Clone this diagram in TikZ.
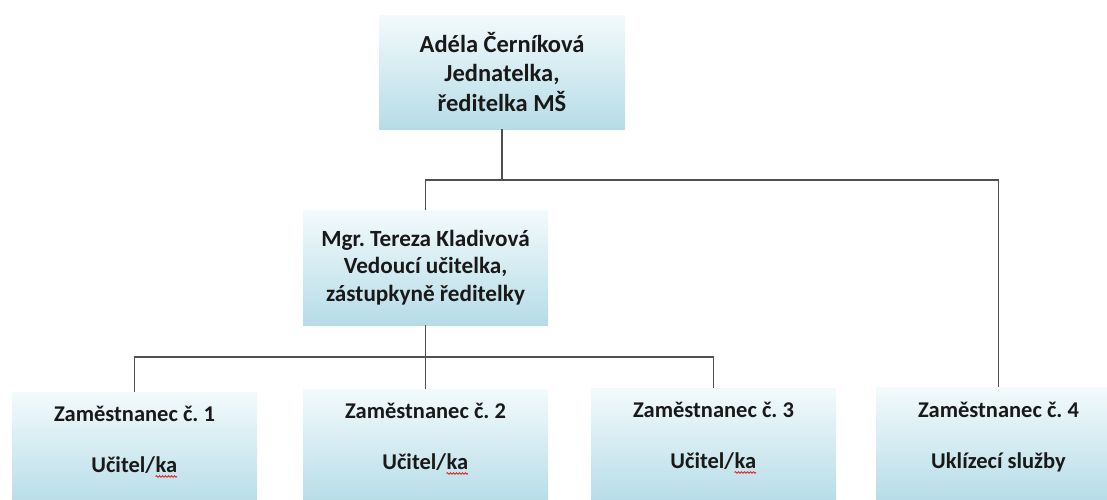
\documentclass[tikz,border=0pt]{standalone}
\usepackage{fontspec}
\setmainfont{Carlito}
\frenchspacing
\usetikzlibrary{positioning,decorations.pathmorphing}
\definecolor{boxtop}{HTML}{F3FAFC}
\definecolor{boxbot}{HTML}{B6DCE7}
\definecolor{linegray}{HTML}{505050}
\definecolor{spellred}{HTML}{E02828}
% red wavy spell-check mark under a word
\newcommand\spellmark[1]{\tikz[baseline=(sw.base)]{\node[inner sep=0pt,outer sep=0pt](sw){#1};\draw[spellred,line width=0.9pt,decorate,decoration={snake,amplitude=0.8pt,segment length=3pt}]([yshift=-3.5pt]sw.south west)--([yshift=-3.5pt]sw.south east);}}
\begin{document}
\begin{tikzpicture}[x=1pt,y=-1pt,
    box/.style={rectangle,minimum width=245pt,minimum height=115pt,inner sep=0pt,top color=boxtop,bottom color=boxbot},
    head/.style={align=center,font=\fontsize{24.5}{29.5}\selectfont\bfseries,text=black!90},
    title/.style={anchor=base,inner sep=0pt,font=\fontsize{22.5}{27}\selectfont\bfseries,text=black!90},
    link/.style={draw=linegray,line width=1.2pt}]
    \useasboundingbox (0,0) rectangle (1107,499);
    \clip (0,0) rectangle (1107,499);
    \coordinate(bus1) at (0,180);
    \coordinate(bus2) at (0,357);
    \node(ceo)[box,minimum width=246pt,minimum height=114pt,head] at (502,72) {Adéla Černíková\\Jednatelka,\\ředitelka MŠ};
    \node(dep)[box,head,font=\fontsize{23.2}{27.5}\selectfont\bfseries] at (425.5,267.5) {Mgr. Tereza Kladivová\\Vedoucí učitelka,\\zástupkyně ředitelky};
    \node(e1)[box] at (134.5,449.5) {};
    \node(e2)[box] at (425.5,446.5) {};
    \node(e3)[box] at (713.5,445.5) {};
    \node(e4)[box] at (998.5,444.5) {};
    \node(t1)[title] at ([yshift=-30pt]e1.north) {Zaměstnanec č. 1};
    \node(r1)[title] at ([yshift=-81pt]e1.north) {Učitel/\spellmark{ka}};
    \node(t2)[title] at ([yshift=-30pt]e2.north) {Zaměstnanec č. 2};
    \node(r2)[title] at ([yshift=-81pt]e2.north) {Učitel/\spellmark{ka}};
    \node(t3)[title] at ([yshift=-30pt]e3.north) {Zaměstnanec č. 3};
    \node(r3)[title] at ([yshift=-81pt]e3.north) {Učitel/\spellmark{ka}};
    \node(t4)[title] at ([yshift=-31pt]e4.north) {Zaměstnanec č. 4};
    \node(r4)[title] at ([yshift=-82pt]e4.north) {Uklízecí služby};
    \draw[link] (ceo.south) -- (ceo.south |- bus1);
    \draw[link] (dep.north) |- (bus1 -| e4.north) -- (e4.north);
    \draw[link] (dep.south) -- (e2.north);
    \draw[link] (e1.north) |- (bus2 -| e3.north) -- (e3.north);
\end{tikzpicture}
\end{document}
